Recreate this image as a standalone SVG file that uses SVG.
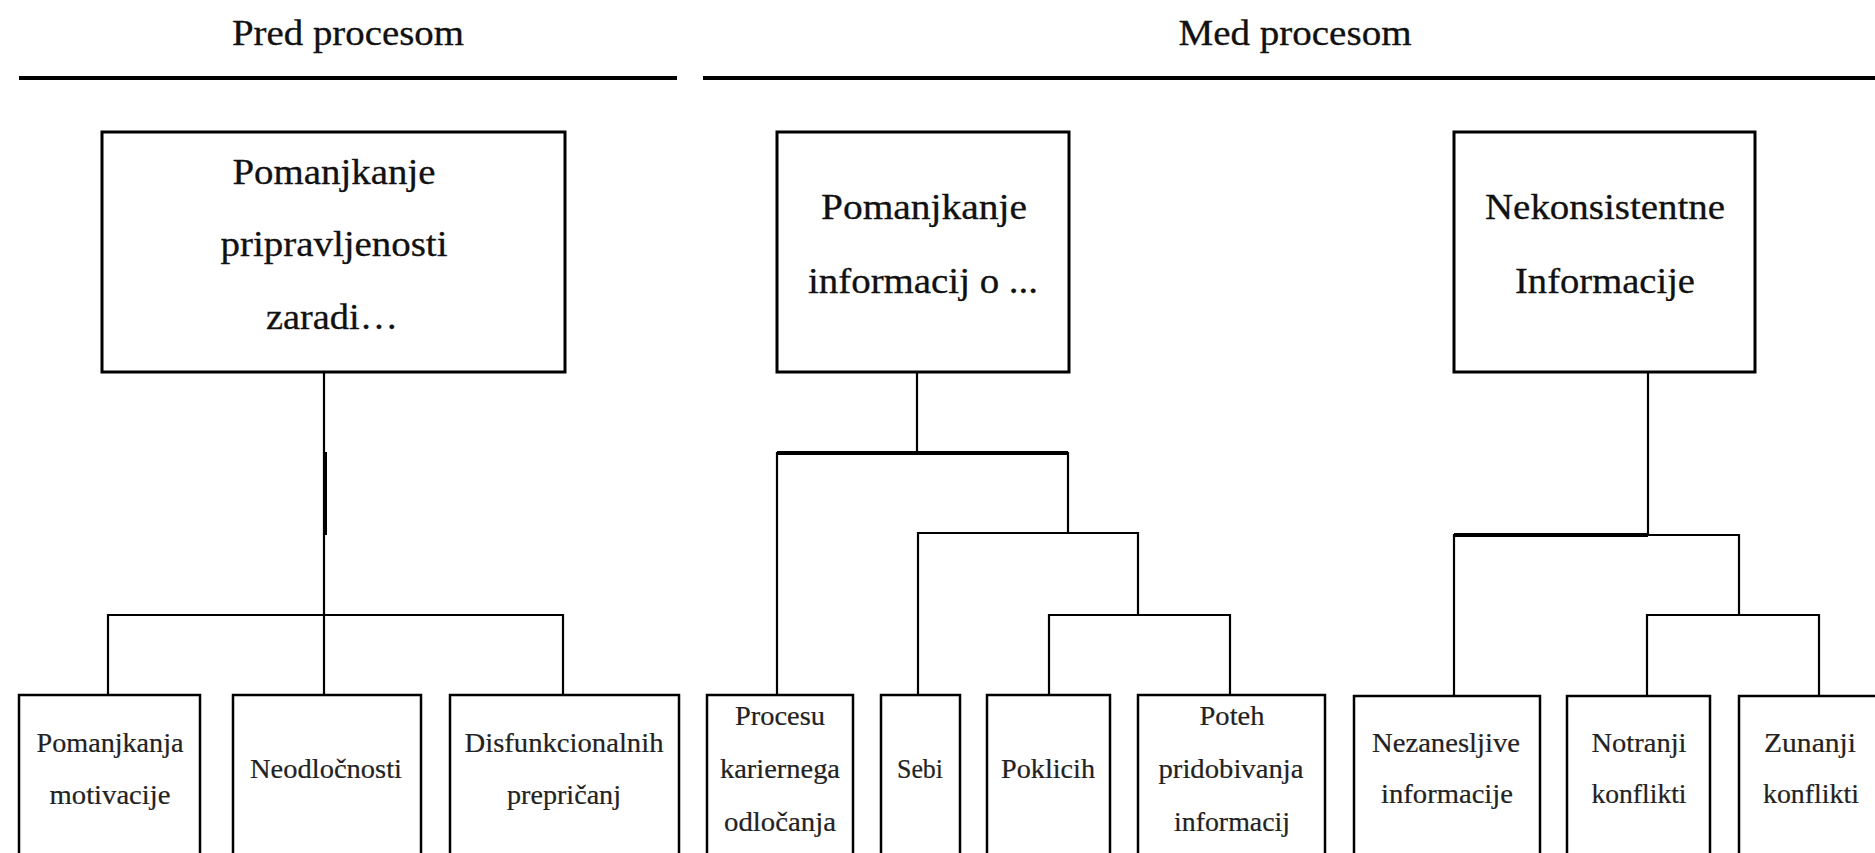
<svg xmlns="http://www.w3.org/2000/svg" width="1875" height="853" viewBox="0 0 1875 853">
<style>
  .bg { fill: #ffffff; }
  .rule { stroke: #000; stroke-width: 4; fill: none; }
  .box { fill: #ffffff; stroke: #000; stroke-width: 3; }
  .sbox { fill: #ffffff; stroke: #000; stroke-width: 2.5; }
  .conn { stroke: #000; stroke-width: 2.2; fill: none; }
  .thick { stroke: #000; stroke-width: 4; fill: none; }
  .hdr { font-family: "Liberation Serif", "Times New Roman", serif; font-size: 35px; fill: #111; stroke: #111; stroke-width: 0.3; text-anchor: middle; }
  .t { font-family: "Liberation Serif", "Times New Roman", serif; font-size: 35px; fill: #111; stroke: #111; stroke-width: 0.3; text-anchor: middle; }
  .s { font-family: "Liberation Serif", "Times New Roman", serif; font-size: 27px; fill: #222; stroke: #222; stroke-width: 0.2; text-anchor: middle; }
</style>
<rect class="bg" x="0" y="0" width="1875" height="853"/>

<g id="headers">
  <text class="hdr" x="348" y="45" textLength="232" lengthAdjust="spacingAndGlyphs">Pred procesom</text>
  <text class="hdr" x="1295" y="45" textLength="233" lengthAdjust="spacingAndGlyphs">Med procesom</text>
  <line class="rule" x1="19" y1="78" x2="677" y2="78"/>
  <line class="rule" x1="703" y1="78" x2="1875" y2="78"/>
</g>

<g id="connectors">
  <path class="conn" d="M324 372 V615 M108 695 V615 H563 V695 M324 615 V695"/>
  <path class="thick" d="M325 452 V535"/>
  <path class="conn" d="M917 372 V453 M777 695 V453 H1068 V533 M918 695 V533 H1138 V615 M1049 695 V615 H1230 V695"/>
  <path class="thick" d="M777 453 H1068"/>
  <path class="conn" d="M1648 372 V535 M1454 696 V535 H1739 V615 M1647 696 V615 H1819 V696"/>
  <path class="thick" d="M1454 535 H1648"/>
</g>

<g id="n1">
  <rect class="box" x="102" y="132" width="463" height="240"/>
  <text class="t" x="334" y="184" textLength="203" lengthAdjust="spacingAndGlyphs">Pomanjkanje</text>
  <text class="t" x="334" y="256" textLength="227" lengthAdjust="spacingAndGlyphs">pripravljenosti</text>
  <text class="t" x="332" y="329" textLength="132" lengthAdjust="spacingAndGlyphs">zaradi…</text>
</g>
<g id="n2">
  <rect class="box" x="777" y="132" width="292" height="240"/>
  <text class="t" x="924" y="219" textLength="206" lengthAdjust="spacingAndGlyphs">Pomanjkanje</text>
  <text class="t" x="923" y="293" textLength="230" lengthAdjust="spacingAndGlyphs">informacij o ...</text>
</g>
<g id="n3">
  <rect class="box" x="1454" y="132" width="301" height="240"/>
  <text class="t" x="1605" y="219" textLength="240" lengthAdjust="spacingAndGlyphs">Nekonsistentne</text>
  <text class="t" x="1605" y="293" textLength="180" lengthAdjust="spacingAndGlyphs">Informacije</text>
</g>

<g id="b1">
  <rect class="sbox" x="19" y="695" width="181" height="190"/>
  <text class="s" x="110" y="752" textLength="147" lengthAdjust="spacingAndGlyphs">Pomanjkanja</text>
  <text class="s" x="110" y="804" textLength="121" lengthAdjust="spacingAndGlyphs">motivacije</text>
</g>
<g id="b2">
  <rect class="sbox" x="233" y="695" width="188" height="190"/>
  <text class="s" x="326" y="778" textLength="152" lengthAdjust="spacingAndGlyphs">Neodločnosti</text>
</g>
<g id="b3">
  <rect class="sbox" x="450" y="695" width="229" height="190"/>
  <text class="s" x="564" y="752" textLength="199" lengthAdjust="spacingAndGlyphs">Disfunkcionalnih</text>
  <text class="s" x="564" y="804" textLength="114" lengthAdjust="spacingAndGlyphs">prepričanj</text>
</g>
<g id="b4">
  <rect class="sbox" x="707" y="695" width="146" height="190"/>
  <text class="s" x="780" y="725" textLength="90" lengthAdjust="spacingAndGlyphs">Procesu</text>
  <text class="s" x="780" y="778" textLength="120" lengthAdjust="spacingAndGlyphs">kariernega</text>
  <text class="s" x="780" y="831" textLength="112" lengthAdjust="spacingAndGlyphs">odločanja</text>
</g>
<g id="b5">
  <rect class="sbox" x="881" y="695" width="79" height="190"/>
  <text class="s" x="920" y="778" textLength="46" lengthAdjust="spacingAndGlyphs">Sebi</text>
</g>
<g id="b6">
  <rect class="sbox" x="987" y="695" width="123" height="190"/>
  <text class="s" x="1048" y="778" textLength="94" lengthAdjust="spacingAndGlyphs">Poklicih</text>
</g>
<g id="b7">
  <rect class="sbox" x="1138" y="695" width="187" height="190"/>
  <text class="s" x="1232" y="725" textLength="65" lengthAdjust="spacingAndGlyphs">Poteh</text>
  <text class="s" x="1231" y="778" textLength="145" lengthAdjust="spacingAndGlyphs">pridobivanja</text>
  <text class="s" x="1232" y="831" textLength="116" lengthAdjust="spacingAndGlyphs">informacij</text>
</g>
<g id="b8">
  <rect class="sbox" x="1354" y="696" width="186" height="190"/>
  <text class="s" x="1446" y="752" textLength="148" lengthAdjust="spacingAndGlyphs">Nezanesljive</text>
  <text class="s" x="1447" y="803" textLength="132" lengthAdjust="spacingAndGlyphs">informacije</text>
</g>
<g id="b9">
  <rect class="sbox" x="1567" y="696" width="143" height="190"/>
  <text class="s" x="1639" y="752" textLength="95" lengthAdjust="spacingAndGlyphs">Notranji</text>
  <text class="s" x="1639" y="803" textLength="95" lengthAdjust="spacingAndGlyphs">konflikti</text>
</g>
<g id="b10">
  <rect class="sbox" x="1739" y="696" width="160" height="190"/>
  <text class="s" x="1810" y="752" textLength="92" lengthAdjust="spacingAndGlyphs">Zunanji</text>
  <text class="s" x="1811" y="803" textLength="96" lengthAdjust="spacingAndGlyphs">konflikti</text>
</g>
</svg>
